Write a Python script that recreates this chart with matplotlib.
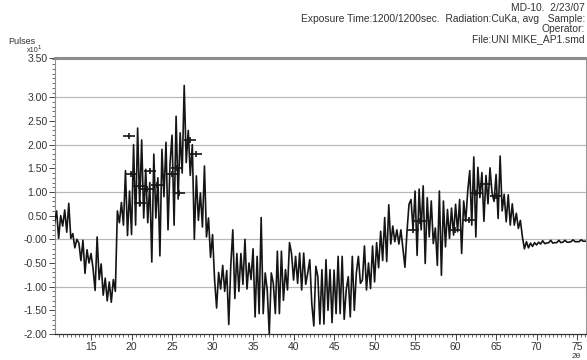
import numpy as np
import matplotlib
matplotlib.use("Agg")
import matplotlib.pyplot as plt
from matplotlib.ticker import MultipleLocator, FixedLocator, FixedFormatter

plt.rcParams["font.family"] = ["Liberation Sans", "DejaVu Sans"]

# Scan grid (degrees 2-theta)
scan_start = 10.5
scan_step = 0.25

# Pulses (x10^1), one list per 10-degree block of the scan
pulses_10_20 = [0.35, 0.60, 0.02, 0.50, 0.28, 0.62, 0.15, 0.76, 0.02, 0.12,
                -0.18, 0.00, -0.08, -0.45, -0.02, -0.72, -0.22, -0.50, -0.30, -0.62,
                -1.08, 0.05, -0.85, -0.52, -1.18, -0.82, -1.30, -0.90, -1.33, -0.85,
                -1.10, 0.60, 0.35, 0.78, 0.30, 1.45, 0.08, 1.02, 0.10, 2.00]
pulses_20_30 = [0.30, 2.35, 0.70, 2.10, 0.45, 1.48, 0.35, 1.20, -0.48, 1.80,
                0.45, 1.30, -0.35, 1.90, 0.90, 2.05, 0.20, 1.60, 2.20, 0.30,
                2.60, 0.85, 2.25, 1.40, 3.25, 1.62, 2.30, 1.35, 2.00, 0.00,
                1.34, 0.40, 0.98, 0.26, 1.55, 0.05, 0.45, -0.38, 0.10, -0.85]
pulses_30_40 = [-1.45, -0.70, -1.05, -0.55, -1.10, -0.66, -1.80, -0.55, 0.20, -1.25,
                -0.30, -1.10, -0.30, -0.95, 0.00, -1.05, -0.50, -0.85, -0.20, -1.64,
                -0.36, -1.57, 0.46, -1.57, -0.71, -1.07, -2.00, -0.71, -0.93, -1.57,
                -0.25, -1.57, -0.25, -1.29, -0.64, -1.07, -0.07, -0.30, -0.86, -0.36]
pulses_40_50 = [-0.93, -0.29, -1.07, -0.29, -0.95, -0.71, -0.43, -1.36, -1.83, -0.57,
                -0.79, -1.79, -0.64, -1.79, -0.43, -1.50, -0.64, -1.76, -0.65, -1.57,
                -0.36, -1.57, -0.36, -1.69, -1.07, -0.79, -1.64, -0.36, -1.50, -0.71,
                -0.36, -0.93, -0.86, -0.14, -1.07, -0.50, -1.04, -0.14, -0.90, -0.07]
pulses_50_60 = [-0.60, 0.17, -0.45, 0.46, -0.47, 0.73, -0.10, 0.28, -0.05, 0.20,
                -0.10, 0.20, -0.19, -0.59, 0.16, 0.74, 0.84, 0.20, 1.02, -0.34,
                1.06, 0.20, 1.13, -0.51, 0.88, 0.05, 0.81, -0.09, 0.24, -0.55,
                1.02, -0.76, 0.81, -0.16, 0.63, 0.02, 0.66, 0.09, 0.74, 0.16]
pulses_60_70 = [0.84, -0.30, 0.81, 0.38, 1.02, 1.45, 0.30, 1.74, 0.05, 1.52,
                0.88, 1.41, 0.38, 1.35, 0.75, 1.51, 0.98, 0.80, 1.37, 0.44,
                1.76, 0.60, 0.95, 0.37, 0.94, 0.30, 0.75, 0.30, 0.55, 0.23,
                0.40, 0.05, -0.20, -0.05, -0.18, -0.08, -0.15, -0.07, -0.12, -0.06]
pulses_70_76 = [-0.10, -0.03, -0.09, -0.08, -0.07, -0.02, -0.08, -0.07, -0.07, -0.02,
                -0.07, -0.06, -0.02, -0.06, -0.06, -0.05, -0.01, -0.05, -0.05, -0.05,
                -0.01, -0.04, -0.04]

# Marked reflections
mark_two_theta = [19.7, 19.9, 20.9, 21.0, 21.9, 22.3, 23.2, 25.0, 25.6, 25.8,
                  27.2, 28.0, 54.7, 55.6, 59.9, 61.6, 62.5, 63.8, 65.0]
mark_pulses = [2.18, 1.37, 1.12, 0.76, 1.07, 1.44, 1.14, 1.37, 1.51, 0.98,
               2.10, 1.80, 0.20, 0.39, 0.20, 0.41, 0.98, 1.16, 0.91]

y_tick_values = [-2.0, -1.5, -1.0, -0.5, 0.0, 0.5, 1.0, 1.5, 2.0, 2.5, 3.0, 3.83]
y_tick_labels = ["-2.00", "-1.50", "-1.00", "-0.50", "-0.00", "0.50", "1.00",
                 "1.50", "2.00", "2.50", "3.00", "3.50"]
x_tick_values = [15, 20, 25, 30, 35, 40, 45, 50, 55, 60, 65, 70, 75]
grid_levels = [-1, 0, 1, 2, 3]

pulses = np.concatenate([pulses_10_20, pulses_20_30, pulses_30_40, pulses_40_50,
                         pulses_50_60, pulses_60_70, pulses_70_76])
two_theta = scan_start + scan_step * np.arange(len(pulses))

W, H = 587, 360
fig = plt.figure(figsize=(W / 100, H / 100), dpi=100)
ax = fig.add_axes([55 / W, 26 / H, 531 / W, 276 / H])

for lvl in grid_levels:
    ax.axhline(lvl, color="#b9b9b9", lw=0.9, zorder=0)

ax.plot(two_theta, pulses, color="#151515", lw=1.2, zorder=3)
ax.plot(mark_two_theta, mark_pulses, ls="none", marker="_", ms=9, mew=1.2,
        color="#151515", zorder=4)
ax.plot(mark_two_theta, mark_pulses, ls="none", marker="|", ms=5, mew=1.2,
        color="#151515", zorder=4)

ax.set_xlim(10.55, 76.1)
ax.set_ylim(-2.0, 3.83)

ax.yaxis.set_major_locator(FixedLocator(y_tick_values))
ax.yaxis.set_major_formatter(FixedFormatter(y_tick_labels))
ax.yaxis.set_minor_locator(MultipleLocator(0.1))
ax.xaxis.set_major_locator(FixedLocator(x_tick_values))
ax.xaxis.set_minor_locator(MultipleLocator(0.5))

ax.tick_params(which="major", direction="out", length=4, width=0.7,
               colors="#444444", labelsize=7.5, pad=1.5)
ax.tick_params(which="minor", direction="out", length=2.2, width=0.6,
               colors="#555555")
for lab in ax.get_xticklabels() + ax.get_yticklabels():
    lab.set_color("#333333")

ax.spines["top"].set_color("#8c8c8c")
ax.spines["top"].set_linewidth(2.2)
ax.spines["left"].set_color("#8f8f8f")
ax.spines["left"].set_linewidth(0.8)
ax.spines["right"].set_color("#9a9a9a")
ax.spines["right"].set_linewidth(0.8)
ax.spines["bottom"].set_color("#333333")
ax.spines["bottom"].set_linewidth(0.9)

txt = dict(color="#333333", fontsize=7.4, va="center", ha="right")
fig.text(585 / W, 1 - 8 / H, "MD-10.  2/23/07", **txt)
fig.text(585 / W, 1 - 18.5 / H,
         "Exposure Time:1200/1200sec.  Radiation:CuKa, avg   Sample:", **txt)
fig.text(585 / W, 1 - 29 / H, "Operator:", **txt)
fig.text(585 / W, 1 - 39.5 / H, "File:UNI MIKE_AP1.smd", **txt)
fig.text(8 / W, 1 - 42 / H, "Pulses", color="#333333", fontsize=6.5,
         va="center", ha="left")
fig.text(27 / W, 1 - 50.5 / H, "x10", color="#333333", fontsize=5.2,
         va="center", ha="left")
fig.text(37.5 / W, 1 - 47.5 / H, "1", color="#333333", fontsize=4.3,
         va="center", ha="left")
fig.text(572 / W, 1 - 356 / H, "2θ", color="#333333", fontsize=6,
         va="center", ha="left")

fig.savefig("out.png", dpi=100, facecolor="white")
